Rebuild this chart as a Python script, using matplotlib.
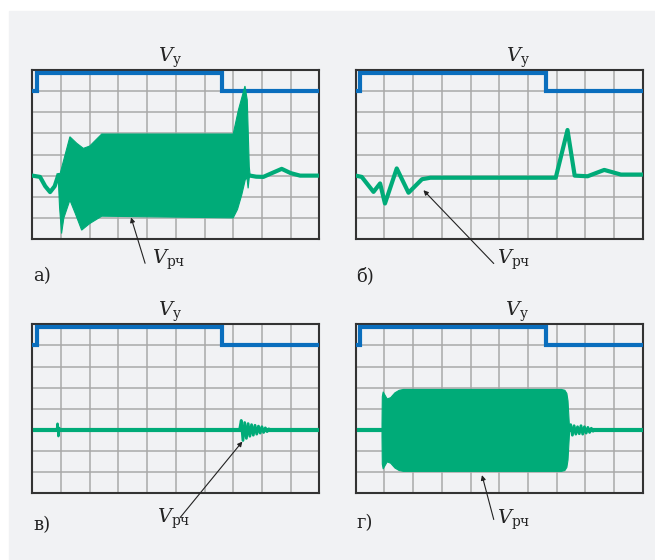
import matplotlib
matplotlib.use("Agg")
import matplotlib.pyplot as plt
from matplotlib.patches import Rectangle

plt.rcParams["font.family"] = ["DejaVu Serif"]
plt.rcParams["mathtext.fontset"] = "dejavuserif"

BG = "#f1f2f4"
GREEN = "#00ab78"
BLUE = "#0a6ebd"
GRID = "#a9a9a9"

# управляющий сигнал (одинаковый на всех осциллограммах)
vy_x = [0, 0.15, 0.15, 6.62, 6.62, 10]
vy_y = [7.0, 7.0, 7.88, 7.88, 7.0, 7.0]

# а) линия до и после пачки
a_pre_x = [0, 0.27, 0.45, 0.62, 0.78, 0.9]
a_pre_y = [3.0, 2.94, 2.5, 2.22, 2.5, 3.0]
a_post_x = [7.59, 7.8, 8.05, 8.35, 8.69, 9.0, 9.33, 10]
a_post_y = [3.0, 2.95, 2.94, 3.12, 3.32, 3.12, 3.0, 3.0]
# а) огибающая радиоимпульса
a_top_x = [0.9, 0.97, 1.31, 1.55, 1.78, 2.0, 2.42, 7.0, 7.18, 7.41, 7.49, 7.56, 7.59]
a_top_y = [3.1, 3.1, 4.84, 4.53, 4.29, 4.4, 4.97, 4.97, 6.1, 7.24, 6.58, 3.42, 3.0]
a_bot_x = [0.9, 0.95, 1.02, 1.1, 1.31, 1.5, 1.72, 2.0, 2.42, 7.0, 7.15, 7.3, 7.42, 7.48, 7.52, 7.56, 7.59]
a_bot_y = [3.0, 1.5, 0.26, 1.0, 1.84, 1.2, 0.42, 0.73, 1.08, 1.0, 1.4, 2.1, 2.8, 2.9, 2.4, 2.9, 3.0]

# б) видеоимпульсы без радиоимпульса
b_x = [0, 0.21, 0.62, 0.85, 1.02, 1.43, 1.84, 2.31, 2.6, 6.97, 7.38, 7.63, 8.08, 8.66, 9.24, 10]
b_y = [3.0, 2.94, 2.23, 2.63, 1.68, 3.34, 2.19, 2.83, 2.9, 2.9, 5.16, 3.0, 2.97, 3.27, 3.05, 3.05]

# в) почти чистая линия с выбросами
c_x = [0.1, 10]
c_y = [3.0, 3.0]
c_glitch_x = [0.85, 0.88, 0.91, 0.94, 0.97]
c_glitch_y = [3.0, 3.3, 2.7, 3.1, 3.0]
c_ring_x = [7.22, 7.28, 7.34, 7.40, 7.46, 7.52, 7.58, 7.64, 7.70, 7.76, 7.82, 7.88, 7.94,
            8.00, 8.06, 8.12, 8.18, 8.24, 8.30]
c_ring_y = [3.0, 3.45, 2.5, 3.35, 2.6, 3.3, 2.7, 3.25, 2.75, 3.22, 2.8, 3.18, 2.85,
            3.15, 2.88, 3.1, 2.92, 3.05, 3.0]

# г) радиоимпульс
d_x = [0.1, 10]
d_y = [3.0, 3.0]
d_env_x = [0.9, 0.91, 0.94, 0.99, 1.08, 1.2, 1.35, 1.5, 1.65, 7.15, 7.27, 7.34, 7.38, 7.40, 7.43]
d_top_y = [3.3, 4.6, 4.82, 4.7, 4.49, 4.55, 4.78, 4.9, 4.94, 4.94, 4.9, 4.75, 4.4, 3.9, 3.2]
d_bot_y = [2.7, 1.4, 1.18, 1.3, 1.51, 1.45, 1.22, 1.1, 1.06, 1.06, 1.1, 1.25, 1.6, 2.1, 2.8]
d_ring_x = [7.43, 7.49, 7.55, 7.61, 7.67, 7.73, 7.79, 7.85, 7.91, 7.97, 8.03, 8.09, 8.15,
            8.21, 8.27, 8.31]
d_ring_y = [3.0, 3.25, 2.75, 3.2, 2.8, 3.15, 2.82, 3.2, 2.8, 3.15, 2.85, 3.12, 2.88,
            3.08, 2.94, 3.0]

panel_names = ["а)", "б)", "в)", "г)"]
vy_label_x = [4.78, 5.66, 4.8, 5.63]
name_y = [-2.0, -2.0, -1.75, -1.65]
# стрелки к подписи V_рч: (откуда, куда)
arrow_from = [(3.93, -1.15), (4.81, -1.16), (5.15, -1.15), (4.81, -1.24)]
arrow_to = [(3.44, 1.02), (2.36, 2.31), (7.32, 2.45), (4.40, 0.86)]
vrf_label = [(4.16, -1.2), (4.93, -1.2), (4.33, -1.42), (4.93, -1.44)]


def setup(ax):
    ax.set_facecolor(BG)
    ax.set_xlim(0, 10)
    ax.set_ylim(0, 8)
    ax.set_xticks(range(11))
    ax.set_yticks(range(9))
    ax.grid(True, color=GRID, lw=1.1)
    ax.tick_params(length=0, labelbottom=False, labelleft=False)
    for s in ax.spines.values():
        s.set_color("#333333")
        s.set_linewidth(1.5)
    ax.set_axisbelow(True)


def main():
    fig = plt.figure(figsize=(6.55, 5.6), dpi=100, facecolor="white")
    fig.patches.append(Rectangle((9 / 655, 0), 1, (560 - 11) / 560,
                                 transform=fig.transFigure, color=BG, zorder=-10))

    boxes = [(32.3, 70), (355.7, 70), (32.3, 324.3), (355.7, 324.3)]
    axes = []
    for (left, top) in boxes:
        ax = fig.add_axes([left / 655, (560 - top - 169) / 560, 287 / 655, 169 / 560])
        setup(ax)
        ax.plot(vy_x, vy_y, color=BLUE, lw=3, solid_joinstyle="miter", zorder=3)
        axes.append(ax)

    lw = 3
    a = axes[0]
    a.plot(a_pre_x, a_pre_y, color=GREEN, lw=lw, zorder=4)
    a.plot(a_post_x, a_post_y, color=GREEN, lw=lw, zorder=4)
    a.fill(a_top_x + a_bot_x[::-1], a_top_y + a_bot_y[::-1], color=GREEN, lw=0.8, zorder=4)

    axes[1].plot(b_x, b_y, color=GREEN, lw=lw, zorder=4)

    c = axes[2]
    c.plot(c_x, c_y, color=GREEN, lw=lw, zorder=4)
    c.plot(c_glitch_x, c_glitch_y, color=GREEN, lw=1.6, zorder=4)
    c.plot(c_ring_x, c_ring_y, color=GREEN, lw=2.0, zorder=4)

    d = axes[3]
    d.plot(d_x, d_y, color=GREEN, lw=lw, zorder=4)
    d.fill_between(d_env_x, d_bot_y, d_top_y, color=GREEN, lw=0.8, zorder=4)
    d.plot(d_ring_x, d_ring_y, color=GREEN, lw=2.0, zorder=4)

    for i, ax in enumerate(axes):
        ax.text(vy_label_x[i], 8.38, r"$V_{\mathrm{у}}$", ha="center", va="baseline",
                fontsize=14, color="#222222", clip_on=False)
        ax.text(0.02, name_y[i], panel_names[i], ha="left", va="baseline",
                fontsize=13, color="#222222", clip_on=False)
        ax.text(vrf_label[i][0], vrf_label[i][1], r"$V_{\mathrm{рч}}$", ha="left",
                va="baseline", fontsize=14, color="#222222", clip_on=False)
        ax.annotate("", xy=arrow_to[i], xytext=arrow_from[i],
                    arrowprops=dict(arrowstyle="-|>", color="#222222", lw=0.8,
                                    mutation_scale=7, shrinkA=0, shrinkB=0),
                    annotation_clip=False, zorder=6)

    fig.savefig("out.png", dpi=100, facecolor=fig.get_facecolor())


if __name__ == "__main__":
    main()
